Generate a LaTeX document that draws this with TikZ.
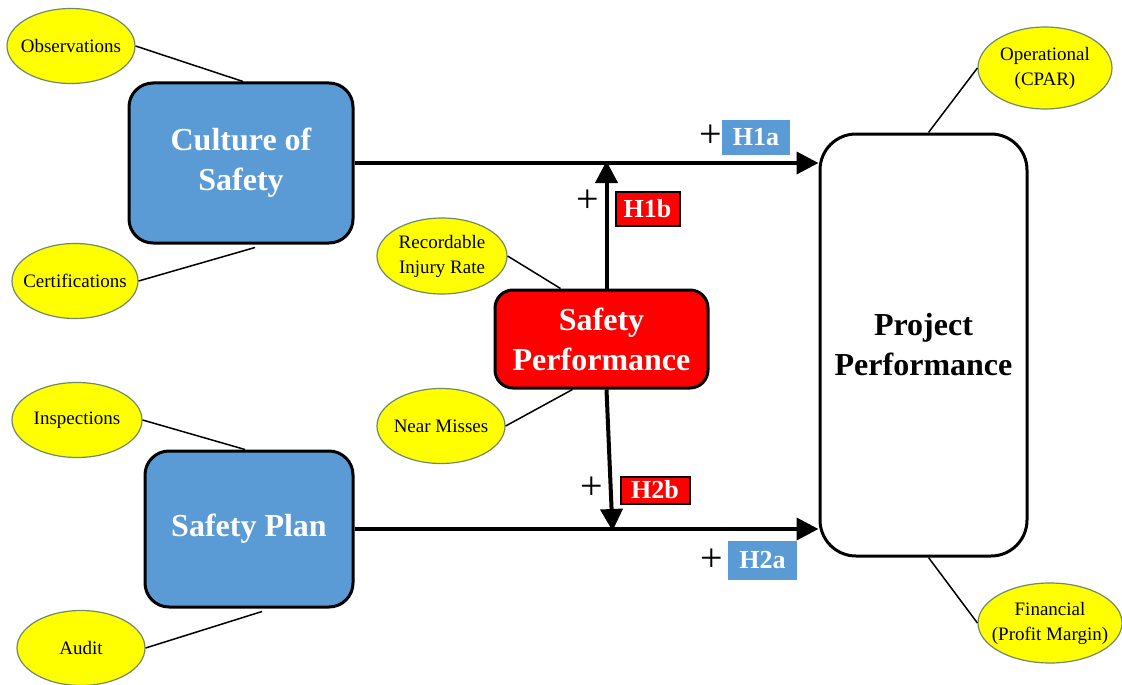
\documentclass[tikz,border=0pt]{standalone}
\usepackage{fontspec}
\setmainfont{Liberation Serif}
\usetikzlibrary{shapes.geometric,arrows.meta,calc}
\definecolor{boxblue}{HTML}{5B9BD5}
\definecolor{boxred}{HTML}{FF0000}
\definecolor{ovalyel}{HTML}{FFFF00}
\definecolor{ovaledge}{HTML}{6E8A6A}
\tikzset{
  construct/.style={draw=black,line width=3pt,rounded corners=24pt,
    align=center,font=\fontsize{32}{40}\selectfont\bfseries,inner sep=0pt},
  indicator/.style={ellipse,draw=ovaledge,line width=1.2pt,fill=ovalyel,
    inner xsep=-20pt,inner ysep=-10pt,align=center,font=\fontsize{19}{25}\selectfont},
  link/.style={line width=1.5pt,draw=black},
  path arrow/.style={line width=4pt,draw=black,
    -{Triangle[length=22pt,width=22pt]}},
  hyp/.style={inner sep=0pt,text=white,font=\fontsize{26}{26}\selectfont\bfseries},
  plus/.style={inner sep=0pt,font=\fontsize{40}{40}\selectfont}
}
\begin{document}
\begin{tikzpicture}[x=1pt,y=-1pt]
\useasboundingbox (0,0) rectangle (1122,685);

% main constructs
\node[construct,fill=boxblue,text=white,minimum width=224pt,minimum height=160pt]
  (cul) at (241,163) {Culture of\\Safety};
\node[construct,fill=boxblue,text=white,minimum width=208pt,minimum height=156pt]
  (plan) at (249,529) {Safety Plan};
\node[construct,fill=boxred,text=white,rounded corners=18pt,minimum width=213pt,minimum height=98pt]
  (sp) at (601.5,339) {Safety\\Performance};
\node[construct,fill=white,text=black,rounded corners=36pt,minimum width=207pt,minimum height=422pt]
  (pp) at (923.5,345) {Project\\Performance};

% indicators
\node[indicator,minimum width=128pt,minimum height=75pt] (obs) at (71,46) {Observations};
\node[indicator,minimum width=126pt,minimum height=75pt] (cert) at (75,281) {Certifications};
\node[indicator,minimum width=130pt,minimum height=76pt] (rir) at (442,256) {Recordable\\Injury Rate};
\node[indicator,minimum width=128pt,minimum height=75pt] (nm) at (441,426) {Near Misses};
\node[indicator,minimum width=130pt,minimum height=75pt] (insp) at (77,420) {Inspections};
\node[indicator,minimum width=128pt,minimum height=75pt] (aud) at (81,648) {Audit};
\node[indicator,minimum width=134pt,minimum height=82pt] (oper) at (1045,68) {Operational\\(CPAR)};
\node[indicator,minimum width=144pt,minimum height=80pt] (fin) at (1050,623) {Financial\\(Profit Margin)};

% indicator links
\draw[link] (obs.east) -- ([xshift=2pt]cul.north);
\draw[link] (cert.east) -- ([xshift=14pt,yshift=-3pt]cul.south);
\draw[link] (insp.east) -- ([xshift=-4pt]plan.north);
\draw[link] (aud.east) -- ([xshift=13pt,yshift=-3pt]plan.south);
\draw[link] (rir.east) -- ([xshift=-41pt]sp.north);
\draw[link] (nm.east) -- ([xshift=-29pt]sp.south);
\draw[link] (oper.west) -- ([xshift=5pt]pp.north);
\draw[link] (fin.west) -- ([xshift=5pt]pp.south);

% hypothesised paths
\draw[path arrow] (cul.east) -- (pp.west |- cul.east);
\draw[path arrow] (plan.east) -- (pp.west |- plan.east);
\draw[path arrow] ([xshift=5pt]sp.north) -- ([xshift=5pt,yshift=2pt]sp.north |- cul.east);
\draw[path arrow] ([xshift=5pt]sp.south) -- ([xshift=11pt,yshift=-2pt]sp.south |- plan.east);

% hypothesis labels
\node[hyp,fill=boxblue,minimum width=68pt,minimum height=35pt] (h1a) at (756,137.5) {H1a};
\node[hyp,fill=boxred,draw=black,line width=2pt,minimum width=64pt,minimum height=34pt] (h1b) at (647.5,209) {H1b};
\node[hyp,fill=boxred,draw=black,line width=2pt,minimum width=69pt,minimum height=27pt] (h2b) at (655,490) {H2b};
\node[hyp,fill=boxblue,minimum width=69pt,minimum height=39pt] (h2a) at (762.5,560.5) {H2a};
\node[plus] (p1a) at (711,136) {+};
\node[plus] (p1b) at (588,201) {+};
\node[plus] (p2b) at (592,488) {+};
\node[plus] (p2a) at (712,560) {+};
\end{tikzpicture}
\end{document}
